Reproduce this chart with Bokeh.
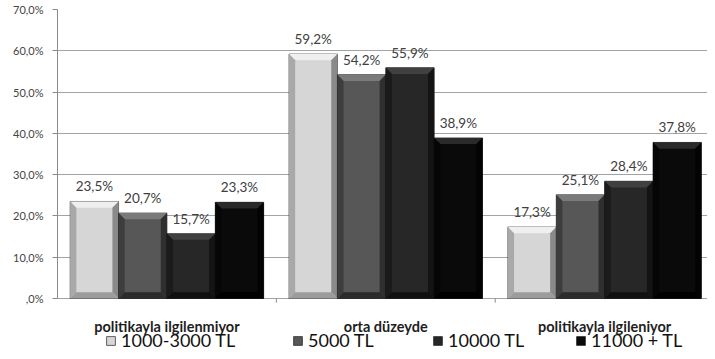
from bokeh.plotting import figure
from bokeh.models import Range1d, FixedTicker, Legend, LegendItem, ColumnDataSource
from bokeh.embed import file_html
from bokeh.resources import INLINE
from bokeh.core.properties import value

categories = ["politikayla ilgilenmiyor", "orta düzeyde", "politikayla ilgileniyor"]
series_names = ["1000-3000 TL", "5000 TL", "10000 TL", "11000 + TL"]
s1 = [23.5, 59.2, 17.3]
s2 = [20.7, 54.2, 25.1]
s3 = [15.7, 55.9, 28.4]
s4 = [23.3, 38.9, 37.8]
series_values = [s1, s2, s3, s4]
y_ticks = [0, 10, 20, 30, 40, 50, 60, 70]

# styles: face, top bevel, left bevel, right bevel, bottom bevel
styles = [
    ("#d6d6d6", "#efefef", "#a9a9a9", "#8a8a8a", "#9c9c9c"),
    ("#575757", "#7a7a7a", "#3d3d3d", "#2f2f2f", "#2c2c2c"),
    ("#272727", "#404040", "#1b1b1b", "#141414", "#101010"),
    ("#0a0a0a", "#2a2a2a", "#060606", "#030303", "#000000"),
]
legend_x = [48, 235, 375, 518]  # legend entry offsets (px from plot left)

FONT = "Lato"
Y_MIN = -12.84  # room below the baseline for category labels and legend
p = figure(frame_width=650, frame_height=342, x_range=Range1d(0, 2.97),
           y_range=Range1d(Y_MIN, 70),
           output_backend="svg", toolbar_location=None,
           min_border_left=57, min_border_right=0, min_border_top=9, min_border_bottom=0)
p.outline_line_color = None
p.xgrid.grid_line_color = None
p.ygrid.grid_line_color = "#a3a3a3"
p.ygrid.ticker = FixedTicker(ticks=y_ticks)
p.xaxis.visible = False

# y axis
p.yaxis.axis_label = None
p.yaxis.bounds = (0, 70)
p.yaxis.ticker = FixedTicker(ticks=y_ticks)
p.yaxis.major_label_overrides = {t: ((f"{t:.1f}".replace(".", ",")) if t else ",0") + "%" for t in y_ticks}
p.yaxis.axis_line_color = "#8a8a8a"
p.yaxis.major_tick_line_color = "#8a8a8a"
p.yaxis.major_tick_out = 5
p.yaxis.major_tick_in = 0
p.yaxis.minor_tick_line_color = None
p.yaxis.major_label_text_font = FONT
p.yaxis.major_label_text_font_size = "11px"
p.yaxis.major_label_text_color = "#444444"
p.yaxis.major_label_standoff = 9

# category axis (drawn by hand inside the frame)
n = len(categories)
centers = [i + 0.5 for i in range(n)]
seps = list(range(1, n))
p.segment(x0=seps, y0=[0] * len(seps), x1=seps, y1=[-1.0] * len(seps),
          line_color="#8a8a8a", line_width=1)
p.text(x=centers, y=[0] * n, text=categories, text_align="center", text_baseline="alphabetic",
       y_offset=28, text_font=value(FONT), text_font_style="bold",
       text_font_size="14.5px", text_color="#1e1e1e")

bw = 0.221
d = 0.028
h = 1.5
for j, (vals, st) in enumerate(zip(series_values, styles)):
    face, topc, leftc, rightc, botc = st
    xs = [c + (j - 1.5) * bw for c in centers]
    x0 = [x - bw / 2 for x in xs]
    x1 = [x + bw / 2 for x in xs]
    src = ColumnDataSource(dict(x=xs, top=vals,
                                label=[f"{v:.1f}".replace(".", ",") + "%" for v in vals]))
    r = p.vbar(x="x", top="top", bottom=0, width=bw, source=src,
               fill_color=face, line_color="#000000", line_width=1, line_alpha=0.6)
    # bevels
    p.patches([[a, b, b - d, a + d] for a, b in zip(x0, x1)],
              [[v, v, v - h, v - h] for v in vals], fill_color=topc, line_color=None)
    p.patches([[a, a, a + d, a + d] for a in x0],
              [[0, v, v - h, h] for v in vals], fill_color=leftc, line_color=None)
    p.patches([[b, b, b - d, b - d] for b in x1],
              [[0, v, v - h, h] for v in vals], fill_color=rightc, line_color=None)
    p.patches([[a, b, b - d, a + d] for a, b in zip(x0, x1)],
              [[0, 0, h, h] for v in vals], fill_color=botc, line_color=None)
    p.text(x="x", y="top", text="label", source=src, text_align="center",
           text_baseline="bottom", y_offset=-7, text_font=value(FONT),
           text_font_size="13.5px", text_color="#404040")
    legend = Legend(items=[LegendItem(label=series_names[j], renderers=[r])],
                    orientation="horizontal", location=(legend_x[j], 0),
                    label_text_font=FONT, label_text_font_size="18px",
                    label_text_color="#111111",
                    glyph_width=11, glyph_height=11, label_standoff=5,
                    padding=0, margin=0, border_line_color=None,
                    background_fill_alpha=0, label_height=18)
    p.add_layout(legend)

open("out.html", "w").write(file_html(p, INLINE))
